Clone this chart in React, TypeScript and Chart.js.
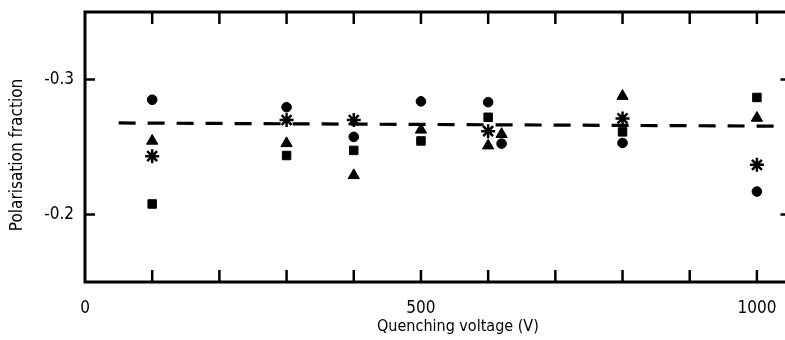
import React, { useEffect, useRef } from "react";
import { Chart, registerables } from "chart.js";

Chart.register(...registerables);

// Axis tick values
const xTickLabels = [0, 500, 1000];
const xMinorTicks = [100, 200, 300, 400, 500, 600, 700, 800, 900, 1000];
const yTickLabels = [-0.3, -0.2];

// Axis titles
const xTitle = "Quenching voltage (V)";
const yTitle = "Polarisation fraction";

// Series (quenching voltage in V, polarisation fraction)
const circleX = [100, 300, 400, 500, 600, 620, 800, 1000];
const circleY = [-0.285, -0.2795, -0.2575, -0.2838, -0.2832, -0.2525, -0.253, -0.217];

const squareX = [100, 300, 400, 500, 600, 800, 1000];
const squareY = [-0.2078, -0.2437, -0.2475, -0.2545, -0.272, -0.2612, -0.2867];

const triangleX = [100, 300, 400, 500, 600, 620, 800, 1000];
const triangleY = [-0.2545, -0.2527, -0.229, -0.2627, -0.251, -0.2595, -0.2877, -0.2715];

const asteriskX = [100, 300, 400, 600, 800, 1000];
const asteriskY = [-0.2432, -0.27, -0.27, -0.2617, -0.2712, -0.2368];

const meanLineX = [50, 1050];
const meanLineY = [-0.2678, -0.2654];

const FONT_FAMILY = '"DejaVu Sans Condensed", "Liberation Sans Narrow", "DejaVu Sans", sans-serif';

const toPoints = (xs: number[], ys: number[]) => xs.map((x, i) => ({ x, y: ys[i] }));

const framePlugin = {
  id: "frameTicks",
  afterDatasetsDraw(chart: any) {
    const { ctx, chartArea } = chart;
    const { left, right, top, bottom } = chartArea;
    const xs = chart.scales.x;
    const ys = chart.scales.y;
    ctx.save();
    ctx.strokeStyle = "#000";
    ctx.lineWidth = 2.5;
    ctx.beginPath();
    xMinorTicks.forEach((v) => {
      const px = xs.getPixelForValue(v);
      ctx.moveTo(px, bottom);
      ctx.lineTo(px, bottom - 12);
      ctx.moveTo(px, top);
      ctx.lineTo(px, top + 12);
    });
    yTickLabels.forEach((v) => {
      const py = ys.getPixelForValue(v);
      ctx.moveTo(left, py);
      ctx.lineTo(left + 10, py);
      ctx.moveTo(right, py);
      ctx.lineTo(right - 10, py);
    });
    ctx.stroke();
    ctx.lineWidth = 3;
    ctx.strokeRect(left, top, right - left, bottom - top);

    // axis titles
    ctx.fillStyle = "#000";
    ctx.textAlign = "center";
    ctx.textBaseline = "middle";
    ctx.font = `16px ${FONT_FAMILY}`;
    ctx.fillText(xTitle, xs.getPixelForValue(555), 327);
    ctx.save();
    ctx.translate(18, (top + bottom) / 2 + 8);
    ctx.rotate(-Math.PI / 2);
    ctx.font = `17px ${FONT_FAMILY}`;
    ctx.fillText(yTitle, 0, 0);
    ctx.restore();
    ctx.restore();
  },
};

export default function App() {
  const canvasRef = useRef<HTMLCanvasElement | null>(null);

  useEffect(() => {
    if (!canvasRef.current) return;
    Chart.defaults.color = "#000";
    const chart = new Chart(canvasRef.current, {
      type: "scatter",
      data: {
        datasets: [
          {
            label: "mean",
            data: toPoints(meanLineX, meanLineY),
            showLine: true,
            borderColor: "#000",
            borderWidth: 3.2,
            borderDash: [17, 12],
            pointRadius: 0,
            order: 10,
          } as any,
          {
            label: "circle",
            data: toPoints(circleX, circleY),
            pointStyle: "circle",
            pointRadius: 4.8,
            backgroundColor: "#000",
            borderColor: "#000",
            borderWidth: 1,
          },
          {
            label: "square",
            data: toPoints(squareX, squareY),
            pointStyle: "rect",
            pointRadius: 6,
            backgroundColor: "#000",
            borderColor: "#000",
            borderWidth: 1,
          },
          {
            label: "triangle",
            data: toPoints(triangleX, triangleY),
            pointStyle: "triangle",
            pointRadius: 6.5,
            backgroundColor: "#000",
            borderColor: "#000",
            borderWidth: 1,
          },
          {
            label: "asterisk",
            data: toPoints(asteriskX, asteriskY),
            pointStyle: "star",
            pointRadius: 7,
            backgroundColor: "#000",
            borderColor: "#000",
            borderWidth: 2.5,
          },
        ],
      },
      options: {
        animation: false,
        responsive: true,
        maintainAspectRatio: false,
        layout: { padding: { left: 0, top: 12, right: 8, bottom: 0 } },
        plugins: { legend: { display: false }, tooltip: { enabled: false } },
        scales: {
          x: {
            type: "linear",
            min: 0,
            max: 1050,
            grid: { display: false, drawTicks: false },
            border: { display: false },
            afterBuildTicks: (scale: any) => {
              scale.ticks = xTickLabels.map((v) => ({ value: v }));
            },
            afterFit: (scale: any) => {
              scale.height = 58;
              scale.paddingLeft = 0;
              scale.paddingRight = 0;
            },
            ticks: {
              autoSkip: false,
              maxRotation: 0,
              padding: 16,
              color: "#000",
              font: { family: FONT_FAMILY, size: 17 },
              callback: (v: any) => String(v),
            },
            title: { display: false },
          },
          y: {
            type: "linear",
            min: -0.35,
            max: -0.15,
            reverse: true,
            grid: { display: false, drawTicks: false },
            border: { display: false },
            afterBuildTicks: (scale: any) => {
              scale.ticks = yTickLabels.map((v) => ({ value: v }));
            },
            afterFit: (scale: any) => {
              scale.width = 85;
              scale.paddingTop = 0;
              scale.paddingBottom = 0;
            },
            ticks: {
              padding: 11,
              color: "#000",
              font: { family: FONT_FAMILY, size: 17 },
              callback: (v: any) => Number(v).toFixed(1),
            },
            title: { display: false },
          },
        },
      },
      plugins: [framePlugin],
    });
    return () => chart.destroy();
  }, []);

  return (
    <div
      style={{
        position: "absolute",
        left: 0,
        top: 0,
        width: 785,
        height: 340,
        overflow: "hidden",
        background: "#fff",
      }}
    >
      <div style={{ position: "relative", width: 800, height: 340 }}>
        <canvas ref={canvasRef} />
      </div>
    </div>
  );
}
